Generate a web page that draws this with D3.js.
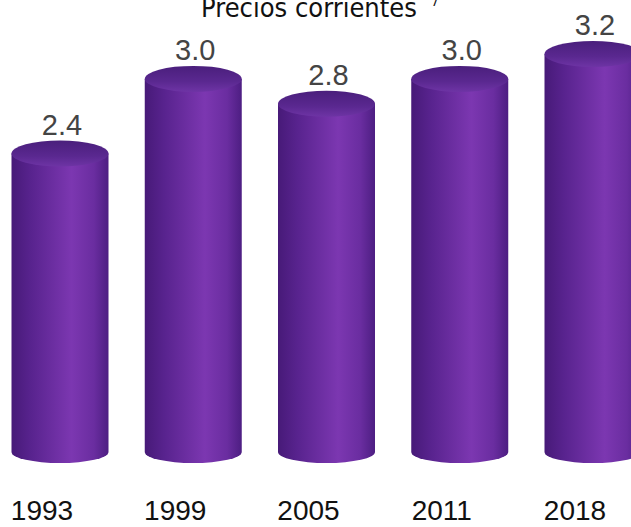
<!DOCTYPE html>
<html lang="es">
<head>
<meta charset="UTF-8">
<title>Precios corrientes</title>
<script src="https://cdn.jsdelivr.net/npm/d3@7"></script>
<style>
    body { margin: 0; background: #fff; }
    .value { font-family: "Liberation Sans", Arial, sans-serif; font-size: 29px; fill: #444; }
    .year { font-family: "Liberation Sans", Arial, sans-serif; font-size: 28px; fill: #111; }
    .title { font-family: "Liberation Sans Narrow", "DejaVu Sans Condensed", sans-serif; font-size: 27px; fill: #111; }
</style>
</head>
<body>
<svg width="631" height="527"></svg>
<script>
    // data
    const years = ["1993", "1999", "2005", "2011", "2018"];
    const values = [2.4, 3.0, 2.8, 3.0, 3.2];
    const labels = ["2.4", "3.0", "2.8", "3.0", "3.2"];

    const svg = d3.select("svg");

    const x = d3.scalePoint().domain(years).range([60, 593]);
    const y = d3.scaleLinear().domain([0, 3.2]).range([452, 54]);

    const rx = 48.5, ryTop = 13, ryBot = 11;

    // gradients
    const defs = svg.append("defs");
    const sideGrad = defs.append("linearGradient").attr("id", "side")
        .attr("x1", "0").attr("x2", "1").attr("y1", "0").attr("y2", "0");
    [[0, "#471a78"], [0.2, "#58238e"], [0.62, "#7c37b1"], [0.85, "#6a2da0"], [1, "#4d1e82"]]
        .forEach(s => sideGrad.append("stop").attr("offset", s[0]).attr("stop-color", s[1]));

    const capGrad = defs.append("linearGradient").attr("id", "cap")
        .attr("x1", "0").attr("x2", "0").attr("y1", "0").attr("y2", "1");
    [[0, "#4a1f7c"], [0.6, "#5a2890"], [1, "#6e34a5"]]
        .forEach(s => capGrad.append("stop").attr("offset", s[0]).attr("stop-color", s[1]));

    const data = years.map((d, i) => ({ year: d, value: values[i], label: labels[i] }));

    const g = svg.append("g").selectAll("g").data(data).enter().append("g");

    // cylinder body
    g.append("path")
        .attr("fill", "url(#side)")
        .attr("d", d => {
            const cx = x(d.year), yt = y(d.value), yb = y(0);
            return `M${cx - rx},${yt} L${cx - rx},${yb} A${rx},${ryBot} 0 0 0 ${cx + rx},${yb} L${cx + rx},${yt} Z`;
        });

    // top cap
    g.append("ellipse")
        .attr("cx", d => x(d.year))
        .attr("cy", d => y(d.value))
        .attr("rx", rx)
        .attr("ry", ryTop)
        .attr("fill", "url(#cap)");

    // value labels
    g.append("text").attr("class", "value")
        .attr("x", d => x(d.year) + 2)
        .attr("y", d => y(d.value) - ryTop - 6)
        .attr("text-anchor", "middle")
        .text(d => d.label);

    // year labels (sit a bit left of the cylinders)
    g.append("text").attr("class", "year")
        .attr("x", d => x(d.year) - 18)
        .attr("y", 520)
        .attr("text-anchor", "middle")
        .text(d => d.year);

    // title (cut at the top in the original)
    const t = svg.append("text").attr("class", "title")
        .attr("x", 320).attr("y", 17).attr("text-anchor", "middle");
    t.append("tspan").text("Precios corrientes");
    t.append("tspan").attr("font-size", "14px").attr("dx", 14).attr("dy", -11).text("7");
</script>
</body>
</html>
